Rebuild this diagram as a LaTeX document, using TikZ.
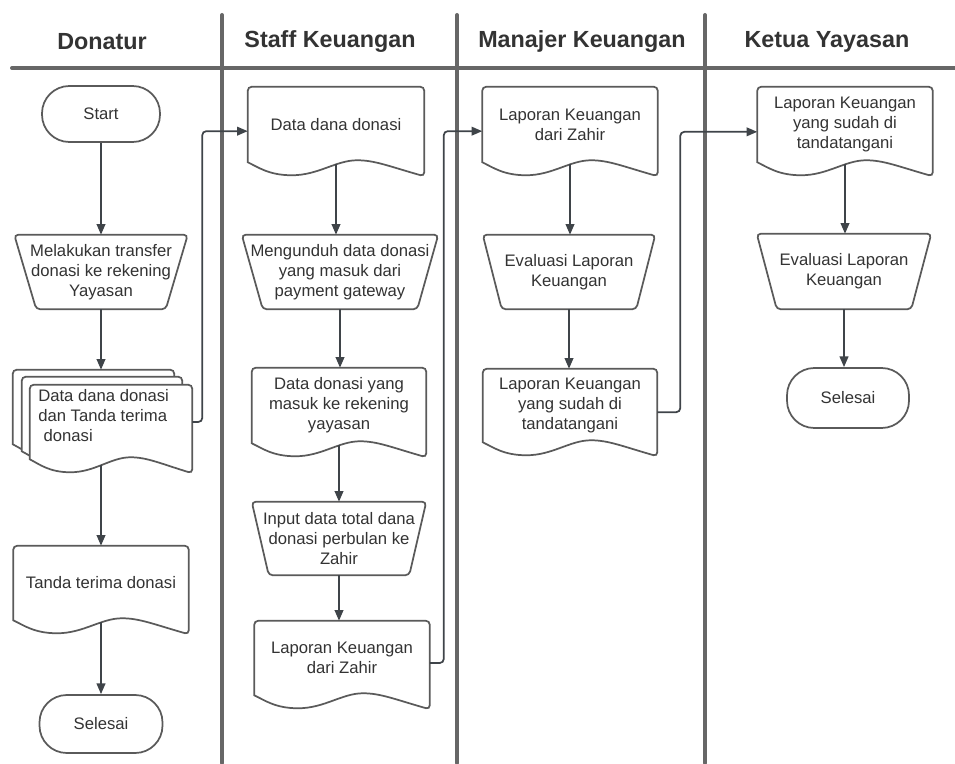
\documentclass[tikz,border=0pt]{standalone}
\usepackage{fontspec}
\setmainfont{Liberation Sans}
\usetikzlibrary{arrows.meta,calc,backgrounds}

\definecolor{laneGray}{HTML}{676767}
\definecolor{shapeGray}{HTML}{5A5A5A}
\definecolor{arrowGray}{HTML}{3F4449}
\definecolor{textGray}{HTML}{333333}

\tikzset{
  lane/.style={line width=3pt, draw=laneGray, line cap=round},
  heading/.style={font=\fontsize{17.5}{21}\selectfont\bfseries, text=textGray},
  box/.style={inner sep=0pt, align=center, text=textGray, font=\fontsize{12.5}{15}\selectfont},
  terminal/.style={box, draw=shapeGray, line width=1.3pt, rounded corners=20.5pt},
  docbox/.style={box, minimum width=131pt, minimum height=56pt},
  manualbox/.style={box, minimum width=130pt, minimum height=55.5pt},
  outline/.style={draw=shapeGray, line width=1.3pt, fill=white},
  arr/.style={draw=arrowGray, line width=1.3pt, -{Triangle[length=8pt,width=6.5pt]}},
  link/.style={arr, rounded corners=3pt},
}

\newcommand{\docshape}[1]{%
  \draw[outline] (#1.south west) [rounded corners=3pt] -- (#1.north west) -- (#1.north east)
    -- ([shift={(0,14)}]#1.south east) [sharp corners]
    .. controls ($(#1.south west)!0.8!(#1.south east)+(0,4)$) and ($(#1.south west)!0.72!(#1.south east)+(0,-2)$) .. ($(#1.south west)!0.62!(#1.south east)+(0,-2)$)
    .. controls ($(#1.south west)!0.5!(#1.south east)+(0,-2)$) and ($(#1.south west)!0.4!(#1.south east)+(0,13)$) .. ($(#1.south west)!0.25!(#1.south east)+(0,13)$)
    .. controls ($(#1.south west)!0.12!(#1.south east)+(0,13)$) and ($(#1.south west)!0.06!(#1.south east)+(0,5)$) .. (#1.south west) -- cycle;
  \coordinate (#1-w) at ($(#1.south west)!0.5!(#1.south east)+(0,2)$);}

\newcommand{\manualshape}[2]{%
  \draw[outline, rounded corners=3pt] (#1.north west) -- (#1.north east)
    -- ([shift={(-#2,0)}]#1.south east) -- ([shift={(#2,0)}]#1.south west) -- cycle;}

\begin{document}
\begin{tikzpicture}[x=0.75pt,y=-0.75pt]
\useasboundingbox (0,0) rectangle (955,763);

\draw[lane] (12,68) -- (955,68);
\draw[lane] (222,15) -- (222,763);
\draw[lane] (457,15) -- (457,763);
\draw[lane] (705,15) -- (705,763);

\node[heading] (hdonatur) at (102,42) {Donatur};
\node[heading] (hstaff) at (330,42) {Staff Keuangan};
\node[heading] (hmanajer) at (582,42) {Manajer Keuangan};
\node[heading] (hketua) at (827,42) {Ketua Yayasan};

\node[terminal, minimum width=88.5pt, minimum height=42pt] (start) at (101,114) {Start};
\node[manualbox, minimum width=129.75pt] (transfer) at (101,272) {Melakukan transfer\\donasi ke rekening\\Yayasan};
\node[docbox, minimum width=120.75pt, minimum height=55.5pt] (multi3) at (93.5,407) {};
\node[docbox, minimum width=120pt, minimum height=55.5pt] (multi2) at (102,414) {};
\node[docbox, minimum width=121.5pt, minimum height=55.5pt] (multi) at (111,422) {};
\node[box, anchor=north west, align=left] (multitext) at (38,389) {Data dana donasi\\dan Tanda terima\\\hspace*{4pt}donasi};
\node[docbox, minimum width=131.25pt, minimum height=55.5pt] (tanda) at (101,583) {Tanda terima donasi};
\node[terminal, minimum width=92.25pt, minimum height=43.5pt] (selesaia) at (101,724) {Selesai};

\node[docbox, minimum width=132pt, minimum height=56.25pt] (datadana) at (336,124.5) {Data dana donasi};
\node[manualbox, minimum width=147pt] (unduh) at (340,272) {Mengunduh data donasi\\yang masuk dari\\payment gateway};
\node[docbox, minimum width=130.5pt, minimum height=56.25pt] (masuk) at (339,405.5) {Data donasi yang\\masuk ke rekening\\yayasan};
\node[manualbox, minimum width=130.5pt, minimum height=54.75pt] (input) at (339,538.5) {Input data total dana\\donasi perbulan ke\\Zahir};
\node[docbox, minimum width=131.25pt, minimum height=55.5pt] (lapstaff) at (342,658) {Laporan Keuangan\\dari Zahir};

\node[docbox, minimum width=131.25pt, minimum height=56.25pt] (lapmgr) at (570,124.5) {Laporan Keuangan\\dari Zahir};
\node[manualbox, minimum width=129pt] (evalmgr) at (569,272) {Evaluasi Laporan\\Keuangan};
\node[docbox, minimum width=130.5pt, minimum height=54.75pt] (ttdmgr) at (570,405.5) {Laporan Keuangan\\yang sudah di\\tandatangani};

\node[docbox, minimum width=131.25pt, minimum height=56.25pt] (lapketua) at (845,124.5) {Laporan Keuangan\\yang sudah di\\tandatangani};
\node[manualbox, minimum width=130.5pt, minimum height=56.25pt] (evalketua) at (844,271.5) {Evaluasi Laporan\\Keuangan};
\node[terminal, minimum width=91.5pt, minimum height=45pt] (selesaib) at (848,398) {Selesai};

\begin{scope}[on background layer]
\manualshape{transfer}{22}
\docshape{multi3}
\docshape{multi2}
\docshape{multi}
\docshape{tanda}
\docshape{datadana}
\manualshape{unduh}{21}
\docshape{masuk}
\manualshape{input}{17}
\docshape{lapstaff}
\docshape{lapmgr}
\manualshape{evalmgr}{19}
\docshape{ttdmgr}
\docshape{lapketua}
\manualshape{evalketua}{20}
\end{scope}

\draw[arr] (start.south) -- (start.south |- transfer.north);
\draw[arr] (transfer.south) -- (transfer.south |- multi3.north);
\draw[arr] ([yshift=-4pt]multi.south -| tanda.north) -- (tanda.north);
\draw[arr] (tanda-w) -- (tanda-w |- selesaia.north);

\draw[arr] (datadana-w) -- (datadana-w |- unduh.north);
\draw[arr] (unduh.south) -- (unduh.south |- masuk.north);
\draw[arr] (masuk-w) -- (masuk-w |- input.north);
\draw[arr] (input.south) -- (input.south |- lapstaff.north);

\draw[arr] (lapmgr-w) -- (lapmgr-w |- evalmgr.north);
\draw[arr] (evalmgr.south) -- (evalmgr.south |- ttdmgr.north);

\draw[arr] (lapketua-w) -- (lapketua-w |- evalketua.north);
\draw[arr] (evalketua.south) -- (evalketua.south |- selesaib.north);

\draw[link] (multi.east) -- ++(10,0) |- ([yshift=-5pt]datadana.west);
\draw[link] ([yshift=-3.75pt]lapstaff.east) -- ++(14,0) |- ([yshift=-5pt]lapmgr.west);
\draw[link] ([yshift=-5pt]ttdmgr.east) -- ++(23,0) |- ([yshift=-5.5pt]lapketua.west);

\end{tikzpicture}
\end{document}
